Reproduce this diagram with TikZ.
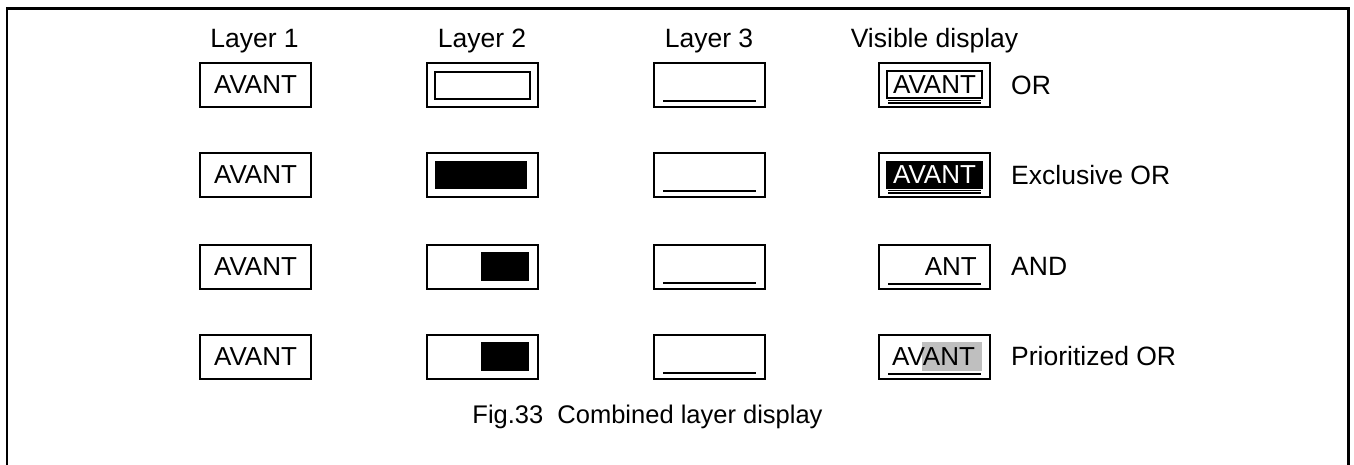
\documentclass[tikz,border=0pt]{standalone}
\usepackage{fontspec}
\setmainfont{Liberation Sans}
\begin{document}
\begin{tikzpicture}[x=1pt,y=-1pt,
  txt/.style={font=\fontsize{26.5}{30}\selectfont, inner sep=0pt},
  cell/.style={draw, line width=2pt, minimum width=111pt, minimum height=44pt, inner sep=0pt, font=\fontsize{26}{30}\selectfont},
  blk/.style={fill=black, draw=none, inner sep=0pt},
  thin/.style={line width=1.2pt},
  uline/.style={line width=2pt}]
\useasboundingbox (0,0) rectangle (1354,464);
% frame
\coordinate (fbl) at (7,465);
\coordinate (ftl) at (7,8.5);
\coordinate (ftr) at (1348.5,8.5);
\coordinate (fbr) at (1348.5,465);
\draw[line width=2.5pt] (fbl) -- (ftl) -- (ftr) -- (fbr);
% headers
\node[txt] (h1) at (254.5,41) {Layer 1};
\node[txt] (h2) at (482,41) {Layer 2};
\node[txt] (h3) at (709,41) {Layer 3};
\node[txt] (h4) at (934.5,41) {Visible display};
% boxes
\foreach \r/\y in {1/85,2/175,3/266.5,4/356.5}{
  \node[cell] (a\r) at (255.5,\y) {AVANT};
  \node[cell] (b\r) at (482,\y) {};
  \node[cell] (c\r) at (709.5,\y) {};
  \node[cell] (d\r) at (934.5,\y) {};
  \coordinate (cl\r) at (663,\y+16);
  \coordinate (cr\r) at (756,\y+16);
  \draw[uline] (cl\r) -- (cr\r);
}
% layer 2 contents
\node[draw, line width=2pt, minimum width=95pt, minimum height=27pt, inner sep=0pt] (b1i) at (482.5,85.5) {};
\node[blk, minimum width=92pt, minimum height=28pt] (b2i) at (481,175) {};
\node[blk, minimum width=48pt, minimum height=29pt] (b3i) at (505,266.5) {};
\node[blk, minimum width=48pt, minimum height=29pt] (b4i) at (505,356.5) {};
% visible display row 1
\node[draw, line width=1.8pt, minimum width=95pt, minimum height=27pt, inner sep=0pt, font=\fontsize{26}{30}\selectfont] (d1i) at (934.5,84.5) {AVANT};
\coordinate (d1u1) at (888,100.5); \coordinate (d1v1) at (981,100.5);
\coordinate (d1u2) at (888,103); \coordinate (d1v2) at (981,103);
\draw[thin] (d1u1) -- (d1v1);
\draw[thin] (d1u2) -- (d1v2);
% row 2
\node[blk, minimum width=97pt, minimum height=28pt, text=white, font=\fontsize{26}{30}\selectfont] (d2i) at (934.5,175) {AVANT};
\coordinate (d2u1) at (888,190.5); \coordinate (d2v1) at (981,190.5);
\coordinate (d2u2) at (888,193); \coordinate (d2v2) at (981,193);
\draw[thin] (d2u1) -- (d2v1);
\draw[thin] (d2u2) -- (d2v2);
% row 3
\node[inner sep=0pt, font=\fontsize{26}{30}\selectfont, anchor=east] (d3t) at (977,266.5) {ANT};
\coordinate (d3u) at (888,284); \coordinate (d3v) at (981,284);
\draw[uline] (d3u) -- (d3v);
% row 4
\node[fill=black!25, inner sep=0pt, minimum width=60pt, minimum height=29pt] (d4g) at (952,356.5) {};
\node[inner sep=0pt, font=\fontsize{26}{30}\selectfont] (d4t) at (933.5,356.5) {AVANT};
\coordinate (d4u) at (888,374); \coordinate (d4v) at (981,374);
\draw[uline] (d4u) -- (d4v);
% right labels
\node[txt, anchor=west] (l1) at (1011,85) {OR};
\node[txt, anchor=west] (l2) at (1011,175) {Exclusive OR};
\node[txt, anchor=west] (l3) at (1011,266.5) {AND};
\node[txt, anchor=west] (l4) at (1011,356.5) {Prioritized OR};
% caption
\node[inner sep=0pt, font=\fontsize{25.5}{30}\selectfont] (cap) at (647.5,417) {Fig.33\hspace{0.556em}Combined layer display};
\end{tikzpicture}
\end{document}
